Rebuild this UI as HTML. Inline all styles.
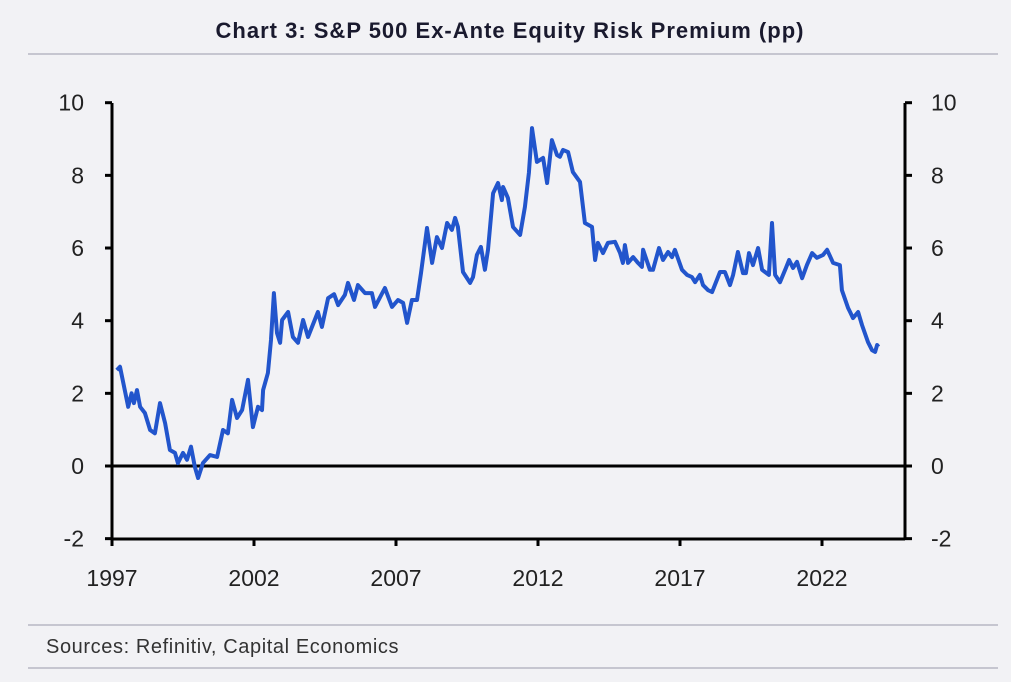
<!DOCTYPE html>
<html><head><meta charset="utf-8"><style>
body{margin:0;background:#f2f2f5;font-family:"Liberation Sans",sans-serif;}
svg{display:block}
</style></head><body>
<svg width="1011" height="682">
<rect width="1011" height="682" fill="#f2f2f5"/>
<text x="510" y="38" text-anchor="middle" font-size="22" font-weight="bold" letter-spacing="1" fill="#1a1a2e">Chart 3: S&amp;P 500 Ex-Ante Equity Risk Premium (pp)</text>
<line x1="28" y1="54" x2="998" y2="54" stroke="#9a9aaa" stroke-width="1"/>
<line x1="28" y1="625" x2="998" y2="625" stroke="#9a9aaa" stroke-width="1"/>
<line x1="28" y1="668" x2="998" y2="668" stroke="#9a9aaa" stroke-width="1"/>
<text x="46" y="653" font-size="20" letter-spacing="0.6" fill="#333">Sources: Refinitiv, Capital Economics</text>
<g id="axes"></g>
<path id="line" fill="none" stroke="#2255cc" stroke-width="4" stroke-linejoin="round"/>
</svg>
<script>
const years=[1997.17,1997.28,1997.57,1997.69,1997.77,1997.88,1997.99,1998.16,1998.34,1998.51,1998.69,1998.87,1999.04,1999.22,1999.32,1999.5,1999.64,1999.78,1999.92,2000.03,2000.2,2000.45,2000.7,2000.91,2001.08,2001.23,2001.4,2001.58,2001.79,2001.96,2002.14,2002.28,2002.32,2002.49,2002.6,2002.7,2002.81,2002.92,2002.99,2003.2,2003.37,2003.55,2003.73,2003.9,2004.25,2004.39,2004.61,2004.82,2004.96,2005.2,2005.31,2005.52,2005.66,2005.91,2006.15,2006.26,2006.61,2006.86,2007.07,2007.25,2007.39,2007.56,2007.74,2007.88,2008.09,2008.27,2008.44,2008.62,2008.8,2008.97,2009.08,2009.18,2009.36,2009.61,2009.71,2009.85,2009.99,2010.13,2010.24,2010.42,2010.59,2010.73,2010.77,2010.94,2011.12,2011.37,2011.54,2011.68,2011.79,2011.96,2012.18,2012.32,2012.49,2012.67,2012.77,2012.88,2013.06,2013.23,2013.48,2013.65,2013.9,2014.01,2014.11,2014.29,2014.46,2014.71,2014.89,2014.99,2015.06,2015.17,2015.35,2015.52,2015.66,2015.7,2015.94,2016.05,2016.26,2016.4,2016.58,2016.72,2016.82,2017.07,2017.25,2017.42,2017.53,2017.7,2017.81,2017.99,2018.13,2018.41,2018.58,2018.76,2018.87,2019.04,2019.22,2019.32,2019.43,2019.57,2019.75,2019.89,2020.13,2020.24,2020.35,2020.52,2020.73,2020.84,2020.98,2021.12,2021.3,2021.47,2021.65,2021.82,2022.04,2022.18,2022.39,2022.63,2022.7,2022.92,2022.99,2023.09,2023.27,2023.41,2023.62,2023.76,2023.87,2023.94,2023.99];
const values=[2.64,2.73,1.63,2.0,1.73,2.09,1.63,1.46,0.99,0.9,1.73,1.18,0.44,0.36,0.08,0.36,0.17,0.53,-0.03,-0.33,0.08,0.3,0.25,0.99,0.9,1.82,1.32,1.54,2.37,1.07,1.63,1.54,2.09,2.56,3.47,4.76,3.66,3.39,4.02,4.24,3.55,3.39,4.02,3.55,4.24,3.83,4.62,4.73,4.43,4.71,5.04,4.57,4.98,4.76,4.76,4.38,4.9,4.38,4.57,4.49,3.94,4.57,4.57,5.31,6.55,5.59,6.3,6.0,6.69,6.5,6.83,6.58,5.34,5.04,5.2,5.81,6.03,5.4,5.95,7.51,7.79,7.32,7.68,7.38,6.58,6.36,7.13,8.07,9.3,8.37,8.48,7.79,8.97,8.56,8.51,8.7,8.64,8.09,7.82,6.69,6.58,5.67,6.14,5.86,6.14,6.17,5.86,5.59,6.08,5.59,5.75,5.59,5.48,5.95,5.4,5.4,6.0,5.67,5.89,5.75,5.95,5.4,5.26,5.2,5.06,5.26,4.98,4.84,4.79,5.34,5.34,4.98,5.26,5.89,5.31,5.31,5.86,5.53,6.0,5.4,5.26,6.69,5.26,5.06,5.45,5.67,5.45,5.62,5.17,5.53,5.86,5.73,5.81,5.95,5.59,5.53,4.84,4.35,4.24,4.07,4.24,3.88,3.41,3.19,3.14,3.33,3.28,2.9];
const yTicks=[-2,0,2,4,6,8,10];
const xTicks=[1997,2002,2007,2012,2017,2022];
const NS='http://www.w3.org/2000/svg';
const L=112,R=905,T=103,B=539;
const xs=y=>L+(y-1997)*28.4;
const ys=v=>466-v*36.33;
const g=document.getElementById('axes');
function mk(tag,attrs,parent){const e=document.createElementNS(NS,tag);for(const k in attrs)e.setAttribute(k,attrs[k]);(parent||g).appendChild(e);return e;}
let e;
e=mk('line',{x1:L,y1:T,x2:L,y2:B+7,stroke:'#000','stroke-width':3});


e=mk('line',{x1:R,y1:T,x2:R,y2:B,stroke:'#000','stroke-width':3});


e=mk('line',{x1:L,y1:B,x2:R,y2:B,stroke:'#000','stroke-width':3});


e=mk('line',{x1:L,y1:ys(0),x2:R,y2:ys(0),stroke:'#000','stroke-width':3});


yTicks.forEach(v=>{const y=ys(v);
 e=mk('line',{x1:L-7,y1:y,x2:L,y2:y,stroke:'#000','stroke-width':3});
 
 
 e=mk('line',{x1:R,y1:y,x2:R+7,y2:y,stroke:'#000','stroke-width':3});
 
 
 e=mk('text',{x:84,y:y+8,'text-anchor':'end','font-size':23,fill:'#222'});e.textContent=v;
 
 
 e=mk('text',{x:931,y:y+8,'text-anchor':'start','font-size':23,fill:'#222'});e.textContent=v;
 
 
});
xTicks.forEach(t=>{const x=xs(t);
 e=mk('line',{x1:x,y1:B,x2:x,y2:B+7,stroke:'#000','stroke-width':3});
 
 
 e=mk('text',{x:x,y:586,'text-anchor':'middle','font-size':23,fill:'#222'});e.textContent=t;
 
 
});
document.getElementById('line').setAttribute('d',years.map((y,i)=>(i?'L':'M')+xs(y).toFixed(1)+' '+ys(values[i]).toFixed(1)).join(' '));
</script>
</body></html>
